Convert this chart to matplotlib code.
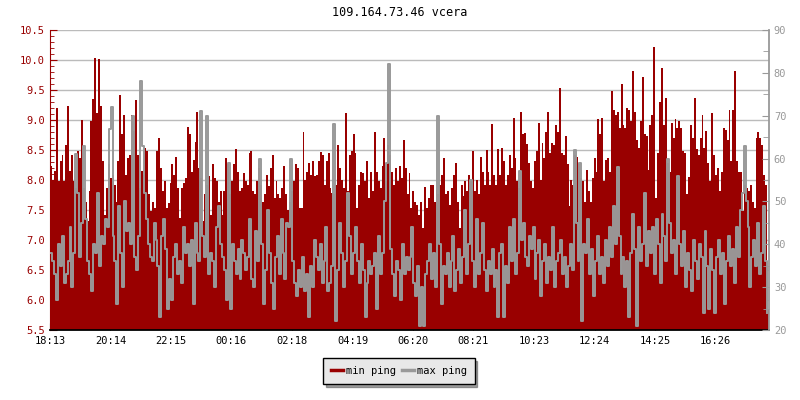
import numpy as np
import matplotlib.pyplot as plt
from matplotlib.ticker import MultipleLocator, FormatStrFormatter

# minimal ping (ms, left axis) left to right
min_ping = [
    8.23, 7.98, 8.15, 9.2, 7.98, 8.31, 8.42, 7.98, 8.59, 9.23, 8.15, 8.42, 7.98, 7.87, 8.48, 8.37,
    9.0, 7.87, 7.64, 7.31, 7.81, 8.98, 9.35, 10.03, 9.12, 10.01, 9.23, 8.31, 7.42, 7.87, 8.26, 8.03,
    8.09, 7.92, 7.64, 8.31, 9.42, 8.76, 9.09, 8.09, 8.37, 8.42, 9.09, 8.81, 9.34, 8.42, 7.87, 8.15,
    8.09, 8.53, 8.48, 7.76, 7.48, 7.64, 7.53, 8.48, 8.7, 8.2, 7.81, 7.98, 7.53,
    7.62, 7.95, 8.26, 8.09, 8.38, 7.87, 7.37, 7.87, 7.95, 8.03, 8.88, 8.76, 8.14, 8.34, 8.64, 9.13,
    8.2, 8.03, 7.31, 7.76, 7.92, 8.06, 7.42, 8.26, 8.03, 7.98, 7.64, 7.81, 7.42, 7.81, 8.37, 8.26,
    7.76, 7.98, 8.26, 8.51, 8.14, 7.81, 7.87, 8.12, 7.98, 7.92, 8.45, 8.48, 7.81, 7.76, 7.98, 8.2,
    7.92, 7.64, 7.76, 8.09, 7.9, 8.2, 8.41, 7.7, 7.98, 7.76, 7.7, 7.87, 8.23, 7.76,
    7.5, 7.64, 7.81, 7.98, 8.26, 8.2, 7.53, 7.53, 8.8, 8.0, 8.14, 8.28, 8.09, 8.31, 8.06, 8.09,
    8.31, 8.47, 8.42, 7.92, 8.31, 8.45, 7.87, 7.78, 7.76, 7.92, 8.58, 8.2, 8.0, 7.87, 9.12, 7.81,
    8.42, 8.48, 8.77, 8.45, 7.53, 7.92, 8.14, 8.12, 7.98, 8.31, 7.7, 8.14, 7.81, 8.8, 8.14, 7.98,
    7.87, 8.23, 8.7, 7.98, 8.59, 8.42, 8.14, 7.92, 8.2, 7.98, 8.23, 8.03, 8.67,
    8.2, 7.76, 8.12, 7.53, 7.81, 7.64, 7.59, 7.42, 7.64, 7.2, 7.89, 7.53, 7.7, 7.92, 7.92, 7.64,
    7.84, 7.76, 7.92, 8.09, 8.37, 7.76, 7.81, 7.59, 7.87, 8.09, 8.28, 7.64, 7.2, 7.92, 7.73, 7.98,
    7.81, 8.09, 7.98, 8.48, 7.81, 8.0, 7.76, 8.39, 8.14, 7.92, 8.5, 8.14, 7.92, 8.93, 8.09, 7.92,
    8.52, 8.09, 8.54, 8.31, 7.92, 8.09, 8.42, 8.2, 9.03, 8.37, 7.98, 7.87, 9.13, 8.77,
    8.78, 8.6, 8.28, 7.98, 7.87, 8.31, 8.48, 8.95, 8.0, 8.62, 8.37, 8.8, 9.13, 8.45, 8.62, 8.59,
    8.91, 8.8, 9.53, 8.45, 8.42, 8.73, 8.26, 7.56, 8.0, 7.92, 8.42, 8.39, 8.26, 8.03, 7.98, 7.64,
    8.17, 7.81, 7.64, 8.03, 8.37, 8.14, 9.02, 8.76, 9.03, 7.98, 8.34, 8.37, 8.14, 9.48, 9.17, 9.09,
    9.14, 8.87, 9.6, 8.92, 8.87, 9.2, 9.17, 8.98, 9.82, 9.14, 8.67, 8.53, 8.98, 9.71, 8.76,
    8.73, 8.17, 8.92, 9.09, 10.21, 7.7, 8.45, 9.3, 9.87, 8.92, 9.37, 8.28, 8.14, 8.95, 8.7, 9.02,
    8.87, 8.98, 8.87, 8.48, 8.45, 7.76, 8.05, 8.92, 8.7, 9.37, 8.51, 8.42, 8.7, 9.08, 8.53, 8.81,
    8.28, 7.98, 9.12, 8.42, 8.09, 8.2, 7.81, 8.14, 8.87, 8.84, 8.67, 9.17, 8.31, 9.17, 9.81, 8.31,
    8.14, 8.14, 7.48, 7.92, 7.87, 7.81, 7.92, 7.64, 7.53, 8.7, 8.8, 8.7, 8.59, 8.09, 7.92, 5.85,
]

# maximal ping (ms, right axis)
max_ping = [
    38, 36, 33, 27, 40, 35, 42, 31, 33, 36, 44, 30, 38, 61, 52, 37, 45, 63, 46, 36, 33, 29, 40, 38,
    52, 35, 42, 40, 46, 44, 67, 72, 42, 36, 26, 49, 38, 30, 50, 43, 45, 40, 70, 37, 34, 42, 78, 63,
    52, 46, 40, 37, 36, 45, 41, 35, 23, 42, 46, 39, 25,
    32, 27, 37, 40, 33, 36, 31, 44, 38, 40, 35, 41, 26, 45, 38, 36, 71, 42, 37, 70, 33, 38, 36, 30,
    44, 49, 40, 37, 34, 27, 59, 25, 40, 36, 33, 39, 32, 41, 38, 34, 37, 46, 32, 30, 43, 36, 60, 40,
    26, 34, 48, 38, 31, 25, 37, 42, 33, 46, 38, 32, 45,
    44, 60, 36, 31, 28, 34, 30, 37, 29, 33, 23, 35, 30, 41, 37, 34, 40, 31, 36, 44, 29, 31, 35, 68,
    22, 34, 45, 38, 30, 36, 52, 42, 33, 38, 44, 36, 31, 40, 34, 23, 31, 36, 33, 35, 38, 25, 42, 33,
    38, 50, 59, 82, 39, 33, 28, 36, 34, 27, 40, 33, 37,
    34, 37, 44, 31, 28, 35, 21, 30, 21, 33, 36, 40, 32, 38, 30, 70, 40, 26, 35, 33, 38, 30, 36, 42,
    29, 34, 39, 31, 37, 48, 33, 40, 55, 36, 30, 46, 33, 38, 45, 34, 29, 36, 33, 39, 30, 34, 23, 38,
    40, 23, 35, 31, 44, 36, 46, 33, 38, 57, 41, 45, 37,
    35, 42, 39, 44, 32, 38, 41, 28, 36, 40, 31, 37, 34, 44, 30, 36, 38, 41, 33, 37, 30, 35, 40, 34,
    62, 45, 36, 59, 22, 40, 38, 46, 33, 39, 28, 36, 42, 33, 37, 31, 41, 35, 44, 37, 49, 40, 58, 42,
    33, 37, 30, 36, 23, 38, 47, 39, 21, 44, 36, 40, 52, 35, 43,
    38, 44, 33, 46, 40, 31, 47, 42, 36, 60, 45, 38, 41, 33, 56, 40, 35, 43, 30, 38, 34, 29, 41, 36,
    32, 40, 37, 24, 43, 35, 25, 39, 34, 24, 37, 41, 33, 38, 26, 36, 42, 35, 39, 31, 44, 37, 48, 52,
    63, 50, 44, 30, 37, 41, 35, 45, 33, 38, 49, 36, 24,
]

tick_labels = ['18:13', '20:14', '22:15', '00:16', '02:18', '04:19',
               '06:20', '08:21', '10:23', '12:24', '14:25', '16:26']
tick_minutes = [0, 121, 242, 363, 485, 606, 727, 848, 970, 1091, 1212, 1333]
span = 1440

red = '#990000'
grey = '#999999'
mono = 'DejaVu Sans Mono'

x_min = np.linspace(0, span, len(min_ping), endpoint=False)
x_max = np.linspace(0, span, len(max_ping), endpoint=False)
step_min = span / len(min_ping)

fig = plt.figure(figsize=(8, 4), dpi=100)
ax = fig.add_axes([50/800, 70/400, 719/800, 300/400])
ax.bar(x_min, np.array(min_ping) - 5.5, bottom=5.5, width=step_min, align='edge',
       color=red, linewidth=0, zorder=2)
ax.set_xlim(0, span)
ax.set_ylim(5.5, 10.5)
ax.yaxis.set_major_locator(MultipleLocator(0.5))
ax.yaxis.set_minor_locator(MultipleLocator(0.1))
ax.yaxis.set_major_formatter(FormatStrFormatter('%.1f'))
ax.grid(axis='y', color='#bbbbbb', linewidth=1, zorder=0)
ax.set_axisbelow(True)
ax.tick_params(axis='y', which='major', direction='in', length=5, colors=red,
               labelsize=7.5, labelcolor=red)
ax.tick_params(axis='y', which='minor', direction='in', length=3, colors=red)
ax.set_xticks(tick_minutes)
ax.set_xticklabels(tick_labels)
ax.tick_params(axis='x', direction='in', length=5, labelsize=7.5, pad=4)
for lab in ax.get_xticklabels() + ax.get_yticklabels():
    lab.set_family(mono)
ax.spines['top'].set_visible(False)
ax.spines['left'].set_color(red)
ax.spines['bottom'].set_linewidth(1.3)
ax.spines['right'].set_visible(False)

ax2 = ax.twinx()
ax2.step(x_max, max_ping, where='post', color=grey, linewidth=1.4)
ax2.set_ylim(20, 90)
ax2.yaxis.set_major_locator(MultipleLocator(10))
ax2.yaxis.set_minor_locator(MultipleLocator(5))
ax2.tick_params(axis='y', which='major', direction='in', length=5, colors=grey,
                labelsize=7.5, labelcolor=grey)
ax2.tick_params(axis='y', which='minor', direction='in', length=4, colors=grey)
for lab in ax2.get_yticklabels():
    lab.set_family(mono)
ax2.spines['right'].set_color(grey)
ax2.spines['right'].set_linewidth(1.3)
for s in ['top', 'left', 'bottom']:
    ax2.spines[s].set_visible(False)

fig.text(0.5, 1 - 13/400, '109.164.73.46 vcera', ha='center', va='center',
         family=mono, fontsize=8.5)

h1 = plt.Line2D([], [], color=red, linewidth=2.5)
h2 = plt.Line2D([], [], color=grey, linewidth=2.5)
leg = fig.legend([h1, h2], ['min ping', 'max ping'], loc='center',
                 bbox_to_anchor=(399/800, 1 - 371/400), ncol=2, frameon=True,
                 fancybox=False, shadow=True, edgecolor='black', facecolor='#e8e8e8',
                 framealpha=1, prop={'family': mono, 'size': 7.5},
                 handlelength=1.1, handletextpad=0.3, columnspacing=0.6,
                 borderpad=0.75, borderaxespad=0)
leg.get_frame().set_linewidth(1)

fig.savefig('out.png', dpi=100)
